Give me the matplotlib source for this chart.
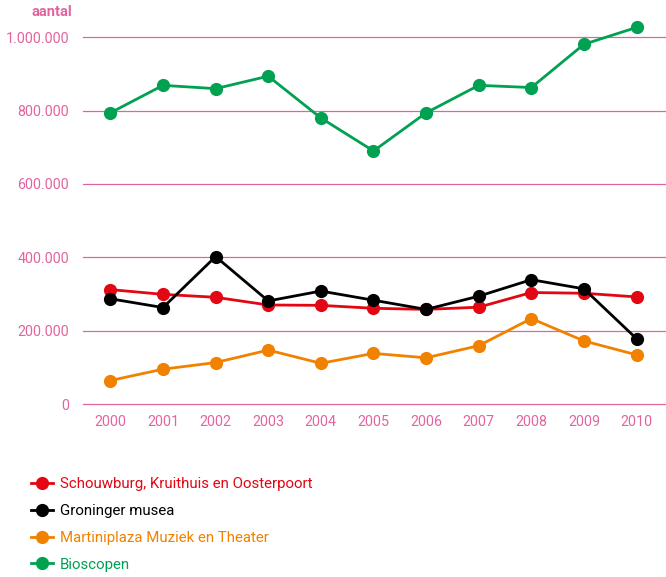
import matplotlib
matplotlib.use("Agg")
import matplotlib.pyplot as plt
from matplotlib.ticker import FuncFormatter
from matplotlib.lines import Line2D

plt.rcParams['font.family'] = ['Roboto', 'DejaVu Sans']

years = [2000, 2001, 2002, 2003, 2004, 2005, 2006, 2007, 2008, 2009, 2010]
schouwburg = [312000, 299000, 291000, 270000, 269000, 261000, 258000, 264000, 304000, 302000, 292000]
musea = [287000, 263000, 402000, 281000, 308000, 283000, 258000, 294000, 339000, 314000, 178000]
martiniplaza = [64000, 95000, 113000, 147000, 111000, 138000, 126000, 159000, 233000, 172000, 134000]
bioscopen = [794000, 869000, 860000, 894000, 780000, 690000, 794000, 869000, 863000, 981000, 1027000]
labels = ["Schouwburg, Kruithuis en Oosterpoort", "Groninger musea",
          "Martiniplaza Muziek en Theater", "Bioscopen"]
yticks = [0, 200000, 400000, 600000, 800000, 1000000]

PINK = "#E2649F"
colors = ["#E30613", "#000000", "#F18200", "#00A151"]
series = [schouwburg, musea, martiniplaza, bioscopen]

W, H = 666, 577
fig = plt.figure(figsize=(W / 100, H / 100), dpi=100)
ytop = 1060000
bottom_px = 404
height_px = ytop / 1e6 * 366.7
ax = fig.add_axes([83 / W, 1 - bottom_px / H, (665 - 83) / W, height_px / H])

for vals, c in zip(series, colors):
    ax.plot(years, vals, color=c, lw=2.0, marker='o', markersize=9.5,
            markeredgewidth=0, zorder=3, solid_capstyle='round')

ax.set_xlim(1999.48, 2010.54)
ax.set_ylim(0, ytop)
ax.set_yticks(yticks)
ax.set_xticks(years)
ax.yaxis.set_major_formatter(FuncFormatter(lambda v, p: f"{int(v):,}".replace(",", ".")))
ax.grid(axis='y', color=PINK, lw=0.9, zorder=1)
for gl in ax.get_ygridlines():
    gl.set_clip_on(False)
ax.set_axisbelow(True)
for s in ax.spines.values():
    s.set_visible(False)
ax.tick_params(axis='both', length=0, colors=PINK, labelsize=10.3)
ax.tick_params(axis='y', pad=10)
ax.tick_params(axis='x', pad=8)

fig.text(72 / W, 1 - 12 / H, "aantal", color=PINK, fontsize=10.5, fontweight='bold',
         ha='right', va='center')

handles = [Line2D([], [], color=c, lw=2.0, marker='o', markersize=9.5, markeredgewidth=0)
           for c in colors]
leg = fig.legend(handles, labels, loc='upper left', bbox_to_anchor=(31 / W, 1 - 477 / H),
                 frameon=False, fontsize=10.8, handlelength=1.45, handletextpad=0.45,
                 labelspacing=0.86, borderaxespad=0, borderpad=0)
for t, c in zip(leg.get_texts(), colors):
    t.set_color(c)

fig.savefig("out.png", dpi=100)
